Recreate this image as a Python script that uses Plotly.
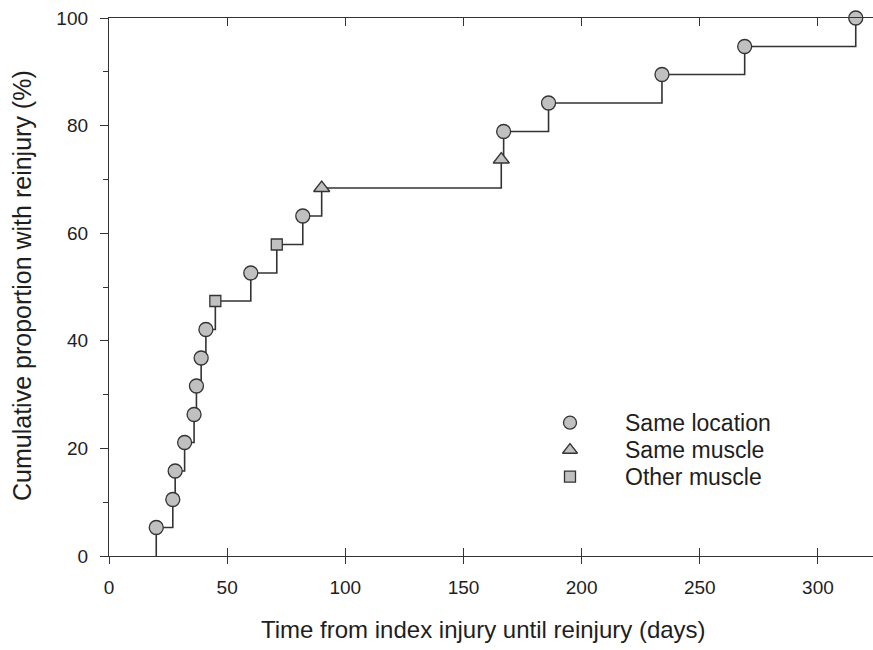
import plotly.graph_objects as go

# ---- data ----
days = [20, 27, 28, 32, 36, 37, 39, 41, 45, 60, 71, 82, 90, 166, 167, 186, 234, 269, 316]
cum_pct = [5.3, 10.5, 15.8, 21.1, 26.3, 31.6, 36.8, 42.1, 47.4, 52.6, 57.9, 63.2,
           68.4, 73.7, 78.9, 84.2, 89.5, 94.7, 100.0]
site = ["loc", "loc", "loc", "loc", "loc", "loc", "loc", "loc", "other", "loc", "other", "loc",
        "same", "same", "loc", "loc", "loc", "loc", "loc"]
groups = ["loc", "same", "other"]
group_labels = ["Same location", "Same muscle", "Other muscle"]
group_symbols = ["circle", "triangle-up", "square"]
group_sizes = [14, 14, 11]
x_ticks = [0, 50, 100, 150, 200, 250, 300]
y_ticks = [0, 20, 40, 60, 80, 100]

W, H = 873, 650
L, R, T, B = 109, 0, 18, 94
PW, PH = W - L - R, H - T - B
LINE = "#333333"
FILL = "#c0c0c0"
TXT = "#1e1e1e"
FONT = "Liberation Sans, Arial, sans-serif"


def px_x(px):
    return (px - L) / PW


def px_y(py):
    return (H - B - py) / PH


fig = go.Figure()

# step curve
fig.add_trace(go.Scatter(
    x=[days[0]] + days, y=[0] + cum_pct, mode="lines",
    line=dict(color=LINE, width=1.6, shape="hv"),
    showlegend=False, cliponaxis=False, hoverinfo="skip"))

# markers by type
for g, sym, sz in zip(groups, group_symbols, group_sizes):
    xs = [d for d, s in zip(days, site) if s == g]
    ys = [c for c, s in zip(cum_pct, site) if s == g]
    fig.add_trace(go.Scatter(
        x=xs, y=ys, mode="markers", showlegend=False, cliponaxis=False,
        marker=dict(symbol=sym, size=sz, color=FILL, line=dict(color=LINE, width=1.3))))

# overlay axis for downward ticks at bottom
fig.add_trace(go.Scatter(x=[0], y=[0], xaxis="x2", yaxis="y", mode="markers",
                         marker=dict(opacity=0), showlegend=False, hoverinfo="skip"))

# legend drawn in a pixel-unit overlay axis
leg_x = 570
leg_y = [422.7, 450, 476.7]
for sym, sz, yy, lab in zip(group_symbols, [13, 13, 11], leg_y, group_labels):
    fig.add_trace(go.Scatter(
        x=[leg_x], y=[yy], xaxis="x3", yaxis="y3", mode="markers", showlegend=False,
        cliponaxis=False,
        marker=dict(symbol=sym, size=sz, color=FILL, line=dict(color=LINE, width=1.3))))
    fig.add_annotation(x=px_x(623), y=px_y(yy), xref="paper", yref="paper", text=lab,
                       showarrow=False, xanchor="left", yanchor="middle",
                       font=dict(family=FONT, size=23, color=TXT))

# axis titles
fig.add_annotation(x=px_x(483), y=px_y(630), xref="paper", yref="paper",
                   text="Time from index injury until reinjury (days)", showarrow=False,
                   xanchor="center", yanchor="middle",
                   font=dict(family=FONT, size=24, color=TXT))
fig.add_annotation(x=px_x(22), y=px_y(286), xref="paper", yref="paper",
                   text="Cumulative proportion with reinjury (%)", showarrow=False,
                   textangle=-90, xanchor="center", yanchor="middle",
                   font=dict(family=FONT, size=25, color=TXT))

fig.update_layout(
    width=W, height=H, margin=dict(l=L, r=R, t=T, b=B, pad=0),
    paper_bgcolor="white", plot_bgcolor="white", showlegend=False,
    font=dict(family=FONT, color=TXT),
    xaxis=dict(range=[0, 323.3], tickvals=x_ticks, ticks="inside", ticklen=8,
               tickwidth=1.3, tickcolor=LINE, mirror="ticks", showline=True,
               linecolor=LINE, linewidth=1.3, showgrid=False, zeroline=False,
               tickfont=dict(family=FONT, size=19, color=TXT), ticklabelstandoff=14),
    xaxis2=dict(range=[0, 323.3], overlaying="x", matches="x", anchor="y", side="bottom",
                tickvals=x_ticks, ticks="outside", ticklen=7, tickwidth=1.3, tickcolor=LINE,
                showticklabels=False, showline=False, showgrid=False, zeroline=False),
    yaxis=dict(range=[0, 100], tickvals=y_ticks, ticks="outside", ticklen=8,
               tickwidth=1.3, tickcolor=LINE, showline=True, linecolor=LINE, linewidth=1.3,
               showgrid=False, zeroline=False,
               minor=dict(ticks="outside", ticklen=5, dtick=10, tick0=0, tickcolor=LINE,
                          tickwidth=1.1, showgrid=False),
               tickfont=dict(family=FONT, size=19, color=TXT), ticklabelstandoff=8),
    xaxis3=dict(range=[L, W - R], overlaying="x", anchor="y3", visible=False),
    yaxis3=dict(range=[H - B, T], overlaying="y", anchor="x3", visible=False),
)

fig.write_html("out.html")
